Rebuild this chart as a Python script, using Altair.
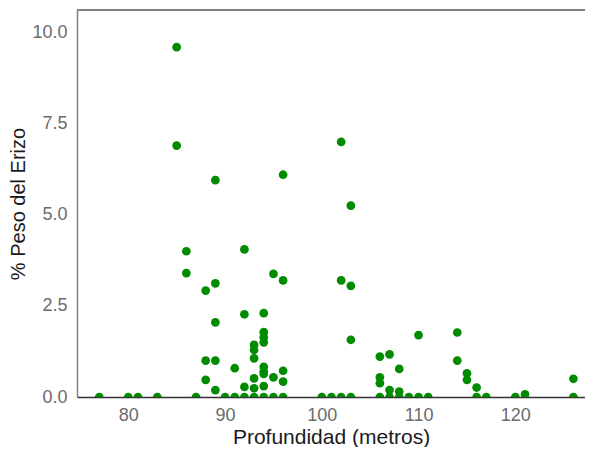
import altair as alt
import pandas as pd

# Depth (m) and % weight of sea urchin
prof = [85, 85, 89, 96, 102, 103,
        86, 92, 86, 95, 96, 102, 103,
        88, 89, 89, 92, 94, 94, 94, 94,
        93, 93, 93, 103, 110, 114,
        88, 89, 91, 94, 94, 94, 96,
        88, 93, 95, 96, 92, 93, 94, 89,
        106, 107, 108, 106, 106, 107, 108,
        114, 115, 115, 116, 121, 126,
        77, 80, 81, 83, 87, 90, 91, 92, 93, 94, 95, 96,
        100, 101, 102, 103, 106, 107, 108, 109, 110, 111,
        116, 117, 120, 126]
peso = [9.6, 6.9, 5.95, 6.1, 7.0, 5.25,
        4.0, 4.05, 3.4, 3.38, 3.2, 3.2, 3.05,
        2.92, 3.12, 2.05, 2.27, 2.3, 1.78, 1.64, 1.5,
        1.43, 1.29, 1.06, 1.57, 1.7, 1.77,
        1.0, 1.0, 0.79, 0.83, 0.70, 0.63, 0.72,
        0.47, 0.51, 0.54, 0.42, 0.28, 0.24, 0.30, 0.19,
        1.11, 1.17, 0.77, 0.54, 0.38, 0.19, 0.15,
        1.0, 0.65, 0.47, 0.26, 0.07, 0.5,
        0, 0, 0, 0, 0, 0, 0, 0, 0, 0, 0, 0,
        0, 0, 0, 0, 0, 0, 0, 0, 0, 0,
        0, 0, 0, 0]

x_ticks = [80, 90, 100, 110, 120]
y_ticks = [0, 2.5, 5, 7.5, 10]

df = pd.DataFrame({"prof": prof, "peso": peso})

FONT = "Liberation Sans"
W, H = 508, 387

points = alt.Chart(df).mark_circle(
    size=76, color="#008B00", opacity=1, clip=True
).encode(
    x=alt.X("prof:Q",
            scale=alt.Scale(domain=[74.7, 127.2], nice=False, zero=False),
            axis=alt.Axis(title="Profundidad (metros)", values=x_ticks,
                          grid=False, ticks=False, domain=True,
                          domainColor="#333333", domainWidth=1.5,
                          labelFont=FONT, labelFontSize=18, labelColor="#6b6b6b",
                          labelPadding=9,
                          titleFont=FONT, titleFontSize=21, titleFontWeight="normal",
                          titleColor="#1a1a1a", titlePadding=2)),
    y=alt.Y("peso:Q",
            scale=alt.Scale(domain=[0, 10.62], nice=False),
            axis=alt.Axis(title="% Peso del Erizo", values=y_ticks, format=".1f",
                          grid=False, ticks=False, domain=True,
                          domainColor="#808080", domainWidth=1.5,
                          labelFont=FONT, labelFontSize=18, labelColor="#6b6b6b",
                          labelPadding=10,
                          titleFont=FONT, titleFontSize=20, titleFontWeight="normal",
                          titleColor="#1a1a1a", titlePadding=3)),
)

top_line = alt.Chart(df).mark_rule(color="#808080", strokeWidth=1.5).encode(
    x=alt.value(0), x2=alt.value(W), y=alt.value(0)
)

chart = alt.layer(top_line, points).properties(
    width=W, height=H,
    autosize=alt.AutoSizeParams(type="none"),
    padding={"left": 69, "top": 2, "right": 0, "bottom": 50},
).configure_view(
    stroke=None
)

chart.save("out.html", embed_options={"renderer": "svg", "actions": False})
